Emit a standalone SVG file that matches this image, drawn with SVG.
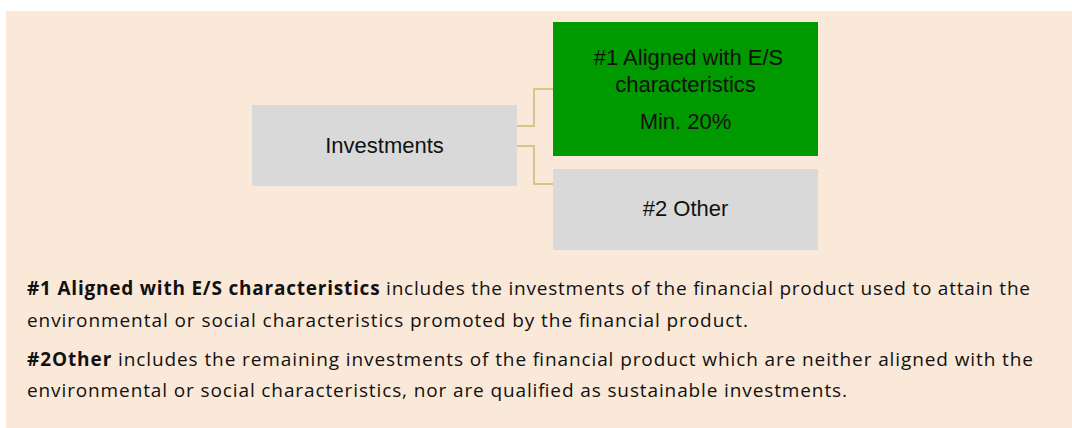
<svg xmlns="http://www.w3.org/2000/svg" width="1072" height="428" viewBox="0 0 1072 428">
<style>
.bg{fill:#FAE8D8}
.gray{fill:#D9D9D9}
.green{fill:#009900}
.lbl{font-family:"Liberation Sans",Arial,sans-serif;font-size:22px;fill:#111;text-anchor:middle}
.body{font-family:"Open Sans","Liberation Sans",Arial,sans-serif;font-size:19px;fill:#111}
.b{font-weight:bold}
.conn{fill:none;stroke:#D4C78C;stroke-width:2}
</style>
<rect class="bg" x="6" y="11" width="1066" height="417"/>
<g id="connectors">
<path class="conn" d="M517,126 H534 V89 H553"/>
<path class="conn" d="M517,146 H534 V184 H553"/>
</g>
<g id="investments">
<rect class="gray" x="252" y="105" width="265" height="81"/>
<text class="lbl" x="384.5" y="153">Investments</text>
</g>
<g id="aligned">
<rect class="green" x="553" y="22" width="265" height="134"/>
<text class="lbl" x="688.5" y="65">#1 Aligned with E/S</text>
<text class="lbl" x="685.5" y="92">characteristics</text>
<text class="lbl" x="685.5" y="129">Min. 20%</text>
</g>
<g id="other">
<rect class="gray" x="553" y="169" width="265" height="81"/>
<text class="lbl" x="685.5" y="216">#2 Other</text>
</g>
<g id="legend">
<text class="body" x="27" y="295" textLength="1003" lengthAdjust="spacing"><tspan class="b">#1 Aligned with E/S characteristics</tspan> includes the investments of the financial product used to attain the</text>
<text class="body" x="27" y="327" textLength="721" lengthAdjust="spacing">environmental or social characteristics promoted by the financial product.</text>
<text class="body" x="27" y="366" textLength="1006" lengthAdjust="spacing"><tspan class="b">#2Other</tspan> includes the remaining investments of the financial product which are neither aligned with the</text>
<text class="body" x="27" y="397" textLength="820" lengthAdjust="spacing">environmental or social characteristics, nor are qualified as sustainable investments.</text>
</g>
</svg>
